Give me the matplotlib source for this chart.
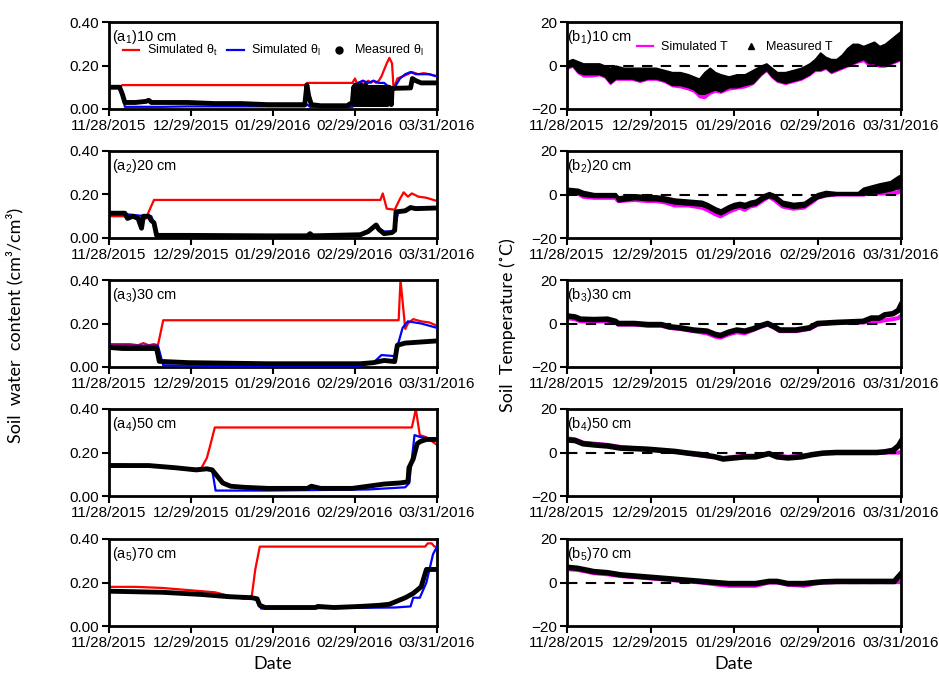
import numpy as np
import pandas as pd
import matplotlib
matplotlib.use("Agg")
import matplotlib.pyplot as plt
import matplotlib.dates as mdates
from matplotlib.lines import Line2D

plt.rcParams['font.family'] = ['Liberation Sans', 'DejaVu Sans']
plt.rcParams['mathtext.fontset'] = 'custom'
plt.rcParams['mathtext.rm'] = 'Liberation Sans'
plt.rcParams['mathtext.it'] = 'Liberation Sans:italic'

start_date = "2015-11-28"
tick_labels = ['11/28/2015', '12/29/2015', '01/29/2016', '02/29/2016', '03/31/2016']

# ---------------- soil water content ----------------
a1_red_days = [0, 4, 5, 74, 75, 92, 93, 94, 95, 96, 97, 98, 99, 100, 101, 102, 103, 104, 105, 106, 107, 107.6, 109, 111, 113, 114.5, 117, 119, 121, 124]
a1_red = [0.10, 0.10, 0.11, 0.11, 0.12, 0.12, 0.14, 0.11, 0.12, 0.13, 0.12, 0.13, 0.12, 0.13, 0.12, 0.13, 0.15, 0.18, 0.21, 0.235, 0.21, 0.09, 0.14, 0.15, 0.16, 0.17, 0.16, 0.165, 0.16, 0.15]
a1_blue_days = [0, 4, 5, 6, 20, 30, 74, 75, 76, 92, 93, 94, 96, 98, 100, 102, 104, 106, 108, 110, 112, 114, 116, 118, 121, 124]
a1_blue = [0.10, 0.10, 0.08, 0.01, 0.01, 0.012, 0.012, 0.02, 0.01, 0.01, 0.02, 0.12, 0.13, 0.12, 0.13, 0.12, 0.12, 0.10, 0.10, 0.14, 0.16, 0.17, 0.16, 0.16, 0.16, 0.15]
a1_meas_days = [0, 4, 5, 6, 10, 14, 15, 16, 20, 30, 40, 50, 60, 70, 74, 74.8, 75.5, 76.5, 80, 90, 92,
                92.5, 92.75, 93, 93.25, 93.5, 93.75, 94, 94.25, 94.5, 94.75, 95, 95.25, 95.5, 95.75, 96, 96.25, 96.5, 96.75,
                97, 97.25, 97.5, 97.75, 98, 98.25, 98.5, 98.75, 99, 99.25, 99.5, 99.75, 100, 100.25, 100.5, 100.75,
                101, 101.25, 101.5, 101.75, 102, 102.25, 102.5, 102.75, 103, 103.25, 103.5, 103.75, 104, 104.25, 104.5, 104.75,
                105, 105.25, 105.5, 105.75, 106, 106.25, 106.5, 106.75, 107, 107.5, 114, 114.7, 116, 118, 124]
a1_meas = [0.10, 0.10, 0.07, 0.03, 0.03, 0.035, 0.04, 0.03, 0.03, 0.03, 0.025, 0.025, 0.02, 0.02, 0.02, 0.11, 0.06, 0.02, 0.015, 0.015, 0.03,
           0.10, 0.02, 0.11, 0.03, 0.10, 0.02, 0.11, 0.05, 0.10, 0.02, 0.10, 0.03, 0.11, 0.02, 0.10, 0.04, 0.10, 0.02,
           0.11, 0.03, 0.10, 0.02, 0.10, 0.04, 0.10, 0.02, 0.09, 0.03, 0.10, 0.02, 0.10, 0.03, 0.09, 0.02,
           0.10, 0.02, 0.10, 0.03, 0.10, 0.02, 0.09, 0.03, 0.10, 0.02, 0.10, 0.03, 0.10, 0.02, 0.09, 0.03,
           0.10, 0.02, 0.10, 0.03, 0.10, 0.03, 0.09, 0.02, 0.09, 0.095, 0.097, 0.14, 0.13, 0.12, 0.12]

a2_red_days = [0, 5, 14, 15, 17, 102.6, 103.5, 105, 108, 110, 111.4, 113, 114.5, 117, 120, 124]
a2_red = [0.10, 0.10, 0.09, 0.12, 0.175, 0.175, 0.205, 0.135, 0.13, 0.18, 0.21, 0.19, 0.205, 0.19, 0.185, 0.17]
a2_blue_days = [0, 6, 14, 16, 17.5, 18.5, 60, 95, 98, 101, 102, 104, 107, 108, 109.3, 112, 116, 124]
a2_blue = [0.11, 0.11, 0.10, 0.10, 0.05, 0.012, 0.01, 0.01, 0.025, 0.06, 0.045, 0.03, 0.03, 0.04, 0.12, 0.13, 0.14, 0.14]
a2_meas_days = [0, 6, 7, 9, 11, 12.3, 13, 15, 16, 17, 18, 30, 60, 75, 76, 77, 95, 98, 101, 102, 104, 107, 108, 108.5, 112, 114, 116, 124]
a2_meas = [0.114, 0.114, 0.09, 0.10, 0.09, 0.045, 0.10, 0.10, 0.08, 0.07, 0.012, 0.012, 0.01, 0.01, 0.02, 0.01, 0.015, 0.03, 0.06, 0.04, 0.02, 0.025, 0.035, 0.12, 0.125, 0.14, 0.135, 0.138]

a3_red_days = [0, 8, 11, 13, 15, 17, 18.5, 20.5, 109.5, 110.2, 112, 113, 115, 118, 121, 124]
a3_red = [0.105, 0.105, 0.10, 0.11, 0.10, 0.105, 0.10, 0.215, 0.215, 0.40, 0.175, 0.20, 0.22, 0.21, 0.205, 0.19]
a3_blue_days = [0, 18.5, 20.5, 40, 95, 100, 103, 108, 111, 113, 118, 124]
a3_blue = [0.098, 0.098, 0.008, 0.005, 0.005, 0.02, 0.055, 0.05, 0.18, 0.21, 0.20, 0.18]
a3_meas_days = [0, 5, 18, 19, 30, 60, 95, 100, 104, 108, 109, 112, 124]
a3_meas = [0.09, 0.085, 0.085, 0.026, 0.02, 0.015, 0.015, 0.02, 0.03, 0.025, 0.10, 0.11, 0.12]

a4_red_days = [0, 15, 25, 33, 35, 37, 38, 40, 114.5, 116, 117.5, 120, 124]
a4_red = [0.145, 0.14, 0.13, 0.125, 0.13, 0.175, 0.22, 0.315, 0.315, 0.40, 0.28, 0.27, 0.235]
a4_blue_days = [0, 15, 25, 33, 37, 39, 40.3, 60, 98, 105, 112, 113.5, 115.5, 118, 124]
a4_blue = [0.145, 0.14, 0.13, 0.12, 0.125, 0.12, 0.025, 0.025, 0.03, 0.035, 0.04, 0.06, 0.28, 0.27, 0.26]
a4_meas_days = [0, 15, 25, 33, 37, 39, 41, 43, 46, 51, 60, 75, 76.5, 80, 92, 98, 104, 110, 113, 113.4, 115, 116.5, 117.6, 120, 124]
a4_meas = [0.14, 0.14, 0.13, 0.12, 0.125, 0.12, 0.09, 0.06, 0.045, 0.04, 0.035, 0.035, 0.045, 0.035, 0.035, 0.045, 0.055, 0.06, 0.065, 0.13, 0.17, 0.24, 0.25, 0.26, 0.26]

a5_red_days = [0, 10, 20, 30, 40, 45, 51, 53, 54, 55.3, 57, 119.5, 120.5, 122, 123, 124]
a5_red = [0.18, 0.18, 0.175, 0.165, 0.155, 0.14, 0.125, 0.13, 0.14, 0.26, 0.365, 0.365, 0.38, 0.38, 0.365, 0.365]
a5_blue_days = [0, 20, 35, 45, 54, 56, 57.5, 108, 114, 115, 117.5, 120, 122.5, 124]
a5_blue = [0.16, 0.155, 0.145, 0.135, 0.13, 0.12, 0.08, 0.085, 0.09, 0.13, 0.13, 0.20, 0.33, 0.365]
a5_meas_days = [0, 20, 35, 45, 54, 56, 57, 59, 78, 79, 85, 95, 102, 106, 110, 112, 115, 118, 120, 124]
a5_meas = [0.16, 0.155, 0.145, 0.135, 0.13, 0.125, 0.095, 0.085, 0.085, 0.09, 0.085, 0.09, 0.095, 0.10, 0.12, 0.13, 0.15, 0.18, 0.26, 0.26]

# ---------------- soil temperature ----------------
b1_days = [0, 2, 4, 6, 9, 12, 14, 16, 18, 21, 24, 27, 30, 33, 36, 39, 42, 45, 47, 49, 51, 53, 55, 57, 60, 63, 66, 69, 72, 74, 76, 78, 81, 84, 87, 90, 92, 94, 96, 98, 100, 102, 104, 106, 108, 110, 112, 114, 116, 118, 120, 122, 124]
b1_meas_hi = [2, 3, 2, 1, 1, 1, 0, -1, 0, -1, -1, -1, -1, -1, -2, -3, -3, -4, -5, -6, -3, -1, -3, -4, -5, -4, -4, -2, 0, 1, -1, -3, -3, -2, -1, 1, 3, 6, 4, 3, 3, 5, 8, 10, 10, 9, 10, 11, 9, 10, 12, 14, 16]
b1_meas_lo = [-1, 0, -3, -4, -4, -4, -5, -8, -6, -6, -6, -7, -6, -6, -7, -9, -9, -10, -11, -13, -13, -12, -11, -12, -10, -10, -9, -8, -4, -2, -5, -7, -8, -7, -6, -4, -2, -2, -1, -3, -2, -1, 0, 1, 2, 3, 1, 1, 0, 0, 1, 2, 3]
b1_sim_hi = [0, 1, 0, -1, -1, -1, -2, -3, -2, -3, -3, -3, -3, -3, -4, -5, -5, -6, -7, -8, -5, -3, -5, -6, -7, -6, -6, -4, -2, -1, -3, -5, -5, -4, -3, -1, 1, 4, 2, 1, 1, 3, 6, 8, 8, 7, 8, 9, 7, 8, 10, 12, 14]
b1_sim_lo = [-1.5, -0.5, -3.5, -5, -5, -4.5, -5.5, -8.5, -6.5, -6.5, -6.5, -7.5, -6.5, -6.5, -7.5, -9.5, -10, -11, -12, -14.5, -15, -13, -12, -12.5, -11, -10.5, -10, -8.5, -4.5, -2.5, -5.5, -7.5, -8.5, -7.5, -6.5, -4.5, -2.5, -2.5, -1.5, -3.5, -2.5, -1.5, -0.5, 0.5, 1.5, 2, 0, 0, -0.5, -0.5, 0.5, 1.5, 2.5]

b2_days = [0, 4, 6, 10, 18, 19, 25, 30, 33, 36, 40, 45, 50, 52, 55, 57, 60, 62, 64, 66, 68, 70, 73, 75, 77, 80, 84, 88, 91, 93, 96, 100, 108, 110, 113, 116, 120, 123, 124]
b2_meas_hi = [3, 2.5, 1.5, 0.5, 0.5, -1, 0, -0.5, -0.5, -1, -2, -2.5, -3, -4, -6, -7, -5, -4, -3.5, -4, -3, -2.5, 0, 1, 0, -3, -4, -3.5, -1, 0.5, 1.5, 1, 1, 3, 4, 5, 6, 8.5, 9]
b2_meas_lo = [1, 0.5, -0.5, -1, -1, -3, -2, -2.5, -2.5, -3, -4, -4.5, -5, -6, -8, -9, -7, -6, -5.5, -6, -5, -4.5, -2, -1, -2, -5, -6, -5.5, -3, -1.5, -0.5, 0, 0, 0, 1, 1, 2, 3, 4]
b2_sim = [1, 0.5, -1, -1.5, -1.5, -3, -2.5, -3, -3, -3.5, -5, -5, -6, -7, -9, -10, -8, -7, -6, -7, -5.5, -5, -2.5, -1, -2.5, -5.5, -6.5, -6, -3.5, -1.5, -0.5, 0, 0, 0, 0.5, 0.5, 0.5, 1, 3]

b3_days = [0, 3, 5, 10, 15, 18, 19, 25, 30, 35, 38, 42, 47, 52, 55, 57, 60, 63, 66, 69, 72, 74.5, 77, 79, 85, 90, 93, 100, 110, 113, 116, 118, 121, 123, 124]
b3_meas = [3.5, 3, 2, 1.8, 2, 1, 0, 0, -0.5, -0.5, -1.5, -2, -3, -3.5, -5, -5.5, -4, -3, -3.5, -2.5, -1, 0, -1.5, -3, -3, -2, 0, 0.5, 1, 2.5, 2.5, 4, 4.5, 6, 8.5]
b3_sim = [2.5, 2, 1, 1, 1, 0.5, -0.5, -0.5, -1, -1, -2, -2.5, -3.5, -4.5, -6, -6.5, -5, -4, -4.5, -3, -1.5, -0.5, -2, -3.5, -3.5, -2.5, -0.5, 0.5, 0.5, 1, 1, 1.5, 2, 2.5, 3.5]

b4_days = [0, 3, 6, 10, 15, 20, 25, 30, 35, 40, 45, 50, 55, 58, 62, 66, 70, 75, 78, 82, 87, 91, 95, 100, 115, 118, 121, 123, 124]
b4_meas = [5.8, 5.5, 4, 3.5, 3, 2, 1.8, 1.5, 1, 0.5, -0.3, -1, -2, -3, -2.5, -2, -2, -0.5, -2, -2.5, -2, -1, -0.3, 0, 0, 0.3, 1, 3, 5]
b4_sim = [6.5, 6, 4.5, 4, 3.5, 2.5, 2, 1.5, 1, 0.5, -0.5, -1.5, -2, -2.5, -2, -1.5, -1.5, -0.5, -1.5, -2, -1.5, -1, -0.3, 0, 0, 0, 0, 0, 0]

b5_days = [0, 4, 10, 15, 20, 25, 30, 35, 40, 45, 50, 55, 60, 65, 70, 75, 78, 82, 88, 92, 95, 100, 121.5, 124]
b5_meas = [7, 6.5, 5, 4.5, 3.5, 3, 2.5, 2, 1.5, 1, 0.5, 0, -0.5, -0.5, -0.5, 0.5, 0.5, -0.5, -0.5, 0, 0.3, 0.5, 0.5, 4]
b5_sim = [6.2, 5.8, 4.3, 3.8, 3, 2.5, 2, 1.5, 1, 0.5, 0, -0.8, -1.5, -1.5, -1.5, 0, 0, -1, -1.5, -0.5, 0, 0.2, 0.2, 0.2]

depths = ['10 cm', '20 cm', '30 cm', '50 cm', '70 cm']

swc = [
    (a1_red_days, a1_red, a1_blue_days, a1_blue, a1_meas_days, a1_meas),
    (a2_red_days, a2_red, a2_blue_days, a2_blue, a2_meas_days, a2_meas),
    (a3_red_days, a3_red, a3_blue_days, a3_blue, a3_meas_days, a3_meas),
    (a4_red_days, a4_red, a4_blue_days, a4_blue, a4_meas_days, a4_meas),
    (a5_red_days, a5_red, a5_blue_days, a5_blue, a5_meas_days, a5_meas),
]

t0 = pd.Timestamp(start_date)


def to_dates(days):
    return t0 + pd.to_timedelta(np.asarray(days, dtype=float), unit='D')


tick_dates = pd.to_datetime(tick_labels, format='%m/%d/%Y')

W, H = 939, 678
fig = plt.figure(figsize=(W / 100, H / 100), dpi=100)

tops = [22, 151, 280, 409, 539]
ph = 87
left_x0, left_x1 = 109, 437
right_x0, right_x1 = 567, 901

tick_fs = 11
spine_lw = 2.0


def style_axis(ax):
    for s in ax.spines.values():
        s.set_linewidth(spine_lw)
        s.set_color('black')
    ax.tick_params(axis='both', direction='out', length=5, width=1.5, labelsize=tick_fs, pad=2)
    ax.set_xticks(tick_dates)
    ax.xaxis.set_major_formatter(mdates.DateFormatter('%m/%d/%Y'))
    ax.set_xlim(tick_dates[0], tick_dates[-1])


for i in range(5):
    top = tops[i]
    rect = [left_x0 / W, 1 - (top + ph) / H, (left_x1 - left_x0) / W, ph / H]
    ax = fig.add_axes(rect)
    rd, rv, bd, bv, md, mv = swc[i]
    ax.plot(to_dates(rd), rv, color='#FF0000', lw=1.6, zorder=2)
    ax.plot(to_dates(bd), bv, color='#0000FF', lw=1.6, zorder=3)
    ax.plot(to_dates(md), mv, color='black', lw=3.5, zorder=4, solid_joinstyle='round')
    ax.set_ylim(0, 0.40)
    ax.set_yticks([0, 0.2, 0.4])
    ax.set_yticklabels(['0.00', '0.20', '0.40'])
    style_axis(ax)
    ax.text(0.008, 0.93, r'(a$_{\mathrm{%d}}$)%s' % (i + 1, depths[i]), transform=ax.transAxes,
            ha='left', va='top', fontsize=10.5)
    if i == 0:
        handles = [Line2D([], [], color='#FF0000', lw=1.6),
                   Line2D([], [], color='#0000FF', lw=1.6),
                   Line2D([], [], color='black', lw=0, marker='o', markersize=5)]
        labels = [r'Simulated θ$_{\mathrm{t}}$', r'Simulated θ$_{\mathrm{l}}$', r'Measured θ$_{\mathrm{l}}$']
        leg = ax.legend(handles, labels, loc='upper left', bbox_to_anchor=(0.043, 0.76), ncol=3,
                        frameon=False, fontsize=9, handlelength=1.3, handletextpad=0.6,
                        columnspacing=0.8, borderaxespad=0, borderpad=0)
        leg.set_zorder(10)

temps = [
    ('band', b1_days, b1_meas_lo, b1_meas_hi, b1_sim_lo, b1_sim_hi),
    ('band2', b2_days, b2_meas_lo, b2_meas_hi, b2_sim),
    ('line', b3_days, b3_meas, b3_sim),
    ('line', b4_days, b4_meas, b4_sim),
    ('line', b5_days, b5_meas, b5_sim),
]

for i in range(5):
    top = tops[i]
    rect = [right_x0 / W, 1 - (top + ph) / H, (right_x1 - right_x0) / W, ph / H]
    ax = fig.add_axes(rect)
    kind = temps[i][0]
    if kind == 'band':
        _, d, mlo, mhi, slo, shi = temps[i]
        x = to_dates(d)
        ax.fill_between(x, slo, shi, color='#FF00FF', lw=1.0, edgecolor='#FF00FF', zorder=2)
        ax.fill_between(x, mlo, mhi, color='black', lw=1.0, edgecolor='black', zorder=3)
    elif kind == 'band2':
        _, d, mlo, mhi, sv = temps[i]
        x = to_dates(d)
        ax.plot(x, sv, color='#FF00FF', lw=3.0, zorder=2)
        ax.fill_between(x, mlo, mhi, color='black', lw=1.5, edgecolor='black', zorder=3)
    else:
        _, d, mv, sv = temps[i]
        x = to_dates(d)
        ax.plot(x, sv, color='#FF00FF', lw=3.0, zorder=2)
        ax.plot(x, mv, color='black', lw=4.0, zorder=3, solid_joinstyle='round')
    ax.axhline(0, color='black', lw=1.5, ls=(0, (5, 4)), zorder=5)
    ax.set_ylim(-20, 20)
    ax.set_yticks([-20, 0, 20])
    style_axis(ax)
    ax.text(0.0, 0.93, r'(b$_{\mathrm{%d}}$)%s' % (i + 1, depths[i]), transform=ax.transAxes,
            ha='left', va='top', fontsize=10.5)
    if i == 0:
        handles = [Line2D([], [], color='#FF00FF', lw=1.6),
                   Line2D([], [], color='black', lw=0, marker='^', markersize=5)]
        labels = ['Simulated T', 'Measured T']
        ax.legend(handles, labels, loc='upper left', bbox_to_anchor=(0.21, 0.78), ncol=2,
                  frameon=False, fontsize=9, handlelength=1.3, handletextpad=0.6,
                  columnspacing=1.2, borderaxespad=0, borderpad=0)

lab_font = ['Lato', 'DejaVu Sans']
fig.text(15 / W, 1 - 325 / H, 'Soil  water  content (cm³/cm³)', rotation=90, ha='center', va='center',
         fontsize=13, family=lab_font)
fig.text(508 / W, 1 - 325 / H, 'Soil  Temperature (˚C)', rotation=90, ha='center', va='center',
         fontsize=13, family=lab_font)
fig.text((left_x0 + left_x1) / 2 / W, 1 - 664 / H, 'Date', ha='center', va='center', fontsize=13, family=lab_font)
fig.text((right_x0 + right_x1) / 2 / W, 1 - 664 / H, 'Date', ha='center', va='center', fontsize=13, family=lab_font)

fig.savefig('out.png', dpi=100)
